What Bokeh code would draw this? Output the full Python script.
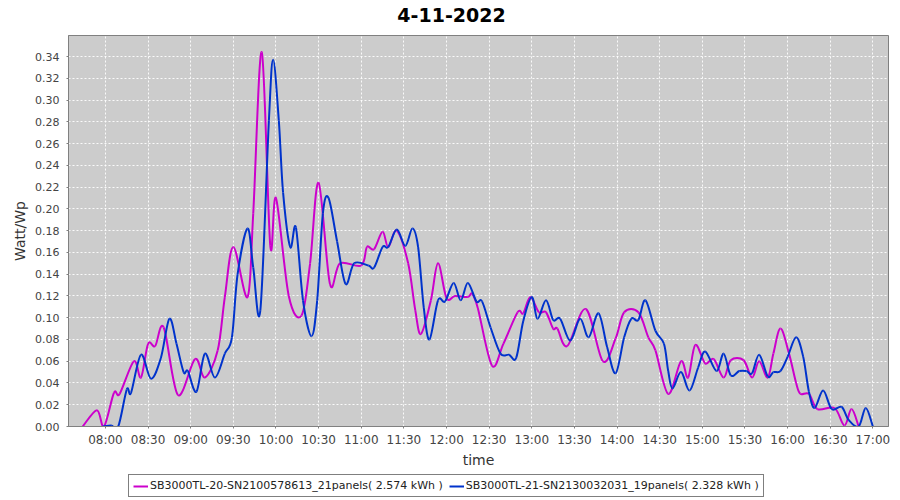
import numpy as np
import pandas as pd
from bokeh.plotting import figure
from bokeh.layouts import column
from bokeh.models import (Range1d, FixedTicker, DatetimeTickFormatter, NumeralTickFormatter,
                          Legend, LegendItem, ColumnDataSource, Label)
from bokeh.embed import file_html
from bokeh.resources import INLINE

DATE = "2022-11-04"
title_text = "4-11-2022"
x_label = "time"
y_label = "Watt/Wp"
series1_name = "SB3000TL-20-SN2100578613_21panels( 2.574 kWh )"
series2_name = "SB3000TL-21-SN2130032031_19panels( 2.328 kWh )"

s1_times = ["07:44", "07:54", "07:59", "08:06", "08:10", "08:20", "08:25", "08:30", "08:35", "08:41",
            "08:51", "09:03", "09:10", "09:19", "09:24", "09:30", "09:40", "09:44", "09:50", "09:56",
            "10:00", "10:09", "10:18", "10:24", "10:30", "10:38", "10:45", "11:00", "11:04", "11:09",
            "11:15", "11:19", "11:25", "11:33", "11:38", "11:42", "11:49", "11:54", "12:00", "12:06",
            "12:15", "12:18", "12:22", "12:32", "12:40", "12:50", "12:54", "12:59", "13:05", "13:10",
            "13:15", "13:18", "13:25", "13:38", "13:50", "13:59", "14:05", "14:15", "14:22", "14:27",
            "14:36", "14:45", "14:50", "14:55", "15:02", "15:08", "15:15", "15:20", "15:29", "15:35",
            "15:40", "15:46", "15:50", "15:55", "16:01", "16:06", "16:09", "16:15", "16:21", "16:33",
            "16:40", "16:45", "16:50"]
s1_values = [0.000, 0.015, 0.000, 0.031, 0.030, 0.060, 0.045, 0.076, 0.074, 0.091,
             0.029, 0.062, 0.045, 0.070, 0.119, 0.165, 0.119, 0.196, 0.344, 0.166,
             0.210, 0.120, 0.102, 0.150, 0.224, 0.131, 0.150, 0.148, 0.165, 0.163,
             0.179, 0.165, 0.180, 0.150, 0.107, 0.085, 0.116, 0.150, 0.118, 0.120,
             0.119, 0.122, 0.109, 0.056, 0.076, 0.105, 0.104, 0.119, 0.105, 0.105,
             0.090, 0.090, 0.074, 0.108, 0.060, 0.081, 0.105, 0.105, 0.082, 0.070,
             0.030, 0.060, 0.045, 0.075, 0.058, 0.062, 0.045, 0.061, 0.061, 0.045,
             0.060, 0.045, 0.067, 0.090, 0.067, 0.040, 0.030, 0.030, 0.016, 0.017,
             0.001, 0.016, 0.000]

s2_times = ["07:58", "08:04", "08:09", "08:15", "08:18", "08:25", "08:32", "08:39", "08:45", "08:50",
            "08:55", "08:58", "09:04", "09:10", "09:17", "09:24", "09:29", "09:33", "09:40", "09:44",
            "09:49", "09:55", "09:58", "10:02", "10:05", "10:10", "10:14", "10:19", "10:25", "10:29",
            "10:33", "10:37", "10:43", "10:49", "10:55", "11:05", "11:09", "11:15", "11:19", "11:25",
            "11:31", "11:36", "11:40", "11:44", "11:48", "11:54", "11:59", "12:05", "12:10", "12:15",
            "12:21", "12:25", "12:31", "12:38", "12:44", "12:49", "12:54", "13:00", "13:04", "13:10",
            "13:15", "13:20", "13:27", "13:34", "13:40", "13:47", "13:53", "13:59", "14:05", "14:10",
            "14:15", "14:20", "14:27", "14:33", "14:36", "14:39", "14:45", "14:51", "14:57", "15:02",
            "15:10", "15:15", "15:20", "15:26", "15:31", "15:35", "15:40", "15:46", "15:50", "15:55",
            "16:00", "16:06", "16:11", "16:15", "16:19", "16:25", "16:31", "16:38", "16:43", "16:50",
            "16:55", "17:00"]
s2_values = [0.000, 0.001, 0.000, 0.034, 0.031, 0.066, 0.044, 0.063, 0.099, 0.076,
             0.050, 0.051, 0.032, 0.067, 0.045, 0.067, 0.082, 0.140, 0.182, 0.146,
             0.107, 0.281, 0.337, 0.281, 0.215, 0.165, 0.183, 0.116, 0.083, 0.116,
             0.196, 0.210, 0.170, 0.131, 0.150, 0.148, 0.146, 0.165, 0.165, 0.181,
             0.166, 0.182, 0.165, 0.109, 0.080, 0.116, 0.115, 0.132, 0.116, 0.132,
             0.115, 0.115, 0.091, 0.067, 0.066, 0.063, 0.097, 0.119, 0.099, 0.116,
             0.098, 0.099, 0.079, 0.099, 0.082, 0.104, 0.073, 0.049, 0.082, 0.099,
             0.098, 0.116, 0.088, 0.076, 0.051, 0.035, 0.050, 0.033, 0.054, 0.069,
             0.051, 0.067, 0.047, 0.051, 0.051, 0.049, 0.066, 0.046, 0.050, 0.051,
             0.064, 0.082, 0.064, 0.032, 0.017, 0.033, 0.016, 0.018, 0.006, 0.000,
             0.017, 0.000]

x_tick_labels = ["08:00", "08:30", "09:00", "09:30", "10:00", "10:30", "11:00", "11:30", "12:00",
                 "12:30", "13:00", "13:30", "14:00", "14:30", "15:00", "15:30", "16:00", "16:30", "17:00"]
y_ticks = [0.00, 0.02, 0.04, 0.06, 0.08, 0.10, 0.12, 0.14, 0.16, 0.18,
           0.20, 0.22, 0.24, 0.26, 0.28, 0.30, 0.32, 0.34]
x_start, x_end = "07:34", "17:11"
y_start, y_end = 0.0, 0.3594

MAGENTA = "#CC00CC"
BLUE = "#0033CC"
FONT = "DejaVu Sans"
W = 900
BORDER_L, BORDER_R = 68, 12


def to_dt(ts):
    return pd.to_datetime([f"{DATE} {t}" for t in ts])


def to_ms(ts):
    return [int(v.value // 10**6) for v in to_dt(ts)]


def spline_source(times, values):
    # smooth (Catmull-Rom) rendering between the measured points, like a spline renderer
    x = np.array(to_ms(times), dtype=float)
    y = np.array(values, dtype=float)
    xp = np.concatenate([[x[0]], x, [x[-1]]])
    yp = np.concatenate([[y[0]], y, [y[-1]]])
    i = np.arange(1, len(xp) - 2)
    return ColumnDataSource(dict(
        x0=xp[i], y0=yp[i], x1=xp[i + 1], y1=yp[i + 1],
        cx0=xp[i] + (xp[i + 1] - xp[i - 1]) / 6.0, cy0=yp[i] + (yp[i + 1] - yp[i - 1]) / 6.0,
        cx1=xp[i + 1] - (xp[i + 2] - xp[i]) / 6.0, cy1=yp[i + 1] - (yp[i + 2] - yp[i]) / 6.0,
    ))


def blank_figure(height):
    # strip whose x data units equal page pixels (frame spans BORDER_L .. W - BORDER_R)
    f = figure(width=W, height=height, output_backend="svg", toolbar_location=None,
               x_range=Range1d(BORDER_L, W - BORDER_R), y_range=Range1d(0, height),
               x_axis_location=None, y_axis_location=None,
               min_border_left=BORDER_L, min_border_right=BORDER_R,
               min_border_top=0, min_border_bottom=0)
    f.grid.visible = False
    f.outline_line_color = None
    f.background_fill_color = "white"
    f.border_fill_color = "white"
    return f


# ---- title strip ----
pt = blank_figure(30)
pt.add_layout(Label(x=451, y=16, text=title_text, text_align="center", text_baseline="middle",
                    text_font=FONT, text_font_size="19px", text_font_style="bold",
                    text_color="black"))

# ---- main plot ----
src1 = spline_source(s1_times, s1_values)
src2 = spline_source(s2_times, s2_values)

p = figure(width=W, height=443, x_axis_type="datetime",
           output_backend="svg", toolbar_location=None,
           x_range=Range1d(to_dt([x_start])[0], to_dt([x_end])[0]),
           y_range=Range1d(y_start, y_end),
           min_border_left=BORDER_L, min_border_right=BORDER_R, min_border_top=5, min_border_bottom=47)

p.background_fill_color = "#CCCCCC"
p.border_fill_color = "white"
p.outline_line_color = "#808080"
p.outline_line_width = 1

bz = dict(x0="x0", y0="y0", x1="x1", y1="y1", cx0="cx0", cy0="cy0", cx1="cx1", cy1="cy1")
r1 = p.bezier(source=src1, line_color=MAGENTA, line_width=2, **bz)
r2 = p.bezier(source=src2, line_color=BLUE, line_width=2, **bz)

xa = p.xaxis[0]
xa.ticker = FixedTicker(ticks=to_ms(x_tick_labels))
xa.formatter = DatetimeTickFormatter(minutes="%H:%M", hourmin="%H:%M", hours="%H:%M",
                                     minsec="%H:%M", seconds="%H:%M", days="%H:%M")
xa.axis_label = x_label
ya = p.yaxis[0]
ya.ticker = FixedTicker(ticks=y_ticks)
ya.formatter = NumeralTickFormatter(format="0.00")
ya.axis_label = y_label

for ax in (xa, ya):
    ax.axis_line_color = "#808080"
    ax.major_tick_line_color = "#808080"
    ax.major_tick_out = 2
    ax.major_tick_in = 0
    ax.minor_tick_line_color = None
    ax.major_label_text_font = FONT
    ax.major_label_text_color = "#444444"
    ax.axis_label_text_font = FONT
    ax.axis_label_text_font_size = "14px"
    ax.axis_label_text_font_style = "normal"
    ax.axis_label_text_color = "#333333"
xa.major_label_text_font_size = "12px"
xa.major_label_standoff = 4
xa.axis_label_standoff = 2
ya.major_label_text_font_size = "11px"
ya.major_label_standoff = 7
ya.axis_label_standoff = 4

for g in (p.xgrid[0], p.ygrid[0]):
    g.grid_line_color = "white"
    g.grid_line_dash = "2 2"
    g.grid_line_width = 1
    g.grid_line_alpha = 0.9

# ---- legend strip ----
pl = blank_figure(27)
# same series, far outside this strip's range: only their legend swatches show
l1 = pl.line(x=to_ms(s1_times), y=s1_values, line_color=MAGENTA, line_width=2)
l2 = pl.line(x=to_ms(s2_times), y=s2_values, line_color=BLUE, line_width=2)
legend = Legend(items=[LegendItem(label=series1_name, renderers=[l1]),
                       LegendItem(label=series2_name, renderers=[l2])],
                orientation="horizontal", location=(60, 3))
legend.border_line_color = "black"
legend.border_line_width = 1
legend.label_text_font = FONT
legend.label_text_font_size = "11px"
legend.label_text_color = "#222222"
legend.glyph_width = 15
legend.glyph_height = 12
legend.label_height = 12
legend.label_standoff = 2
legend.spacing = 6
legend.padding = 4
legend.margin = 0
legend.background_fill_color = "white"
pl.add_layout(legend, "center")

layout = column(pt, p, pl, spacing=0)
open("out.html", "w").write(file_html(layout, INLINE))
